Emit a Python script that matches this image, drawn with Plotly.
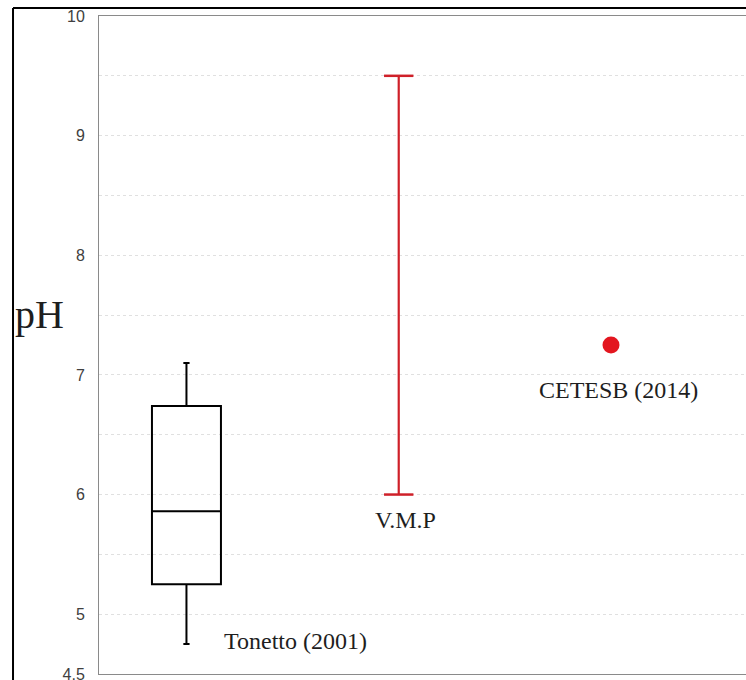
import plotly.graph_objects as go

# pH values by source
tonetto_stats = {"low": 4.75, "q1": 5.25, "median": 5.86, "q3": 6.74, "high": 7.10}
vmp_range = [6.0, 9.5]
cetesb_value = [7.25]

positions = [1, 2, 3]  # Tonetto, V.M.P, CETESB
source_labels = ["Tonetto (2001)", "V.M.P", "CETESB (2014)"]

y_tickvals = [4.5, 5, 6, 7, 8, 9, 10]
y_ticktext = ["4.5", "5", "6", "7", "8", "9", "10"]

serif = "Liberation Serif, Times New Roman, serif"
sans = "Liberation Sans, Arial, sans-serif"

fig = go.Figure()

# Tonetto (2001) box plot from precomputed statistics
fig.add_trace(go.Box(
    x=[positions[0]],
    q1=[tonetto_stats["q1"]],
    median=[tonetto_stats["median"]],
    q3=[tonetto_stats["q3"]],
    lowerfence=[tonetto_stats["low"]],
    upperfence=[tonetto_stats["high"]],
    width=0.325,
    whiskerwidth=0.09,
    line=dict(color="black", width=2),
    fillcolor="rgba(255,255,255,0)",
    boxpoints=False,
    hoverinfo="skip",
    showlegend=False,
))

# V.M.P allowed range: vertical bar with end caps
fig.add_trace(go.Scatter(
    x=[positions[1]] * len(vmp_range),
    y=vmp_range,
    mode="lines+markers",
    line=dict(color="#cf2029", width=2.2),
    marker=dict(symbol="line-ew", size=21, line=dict(color="#cf2029", width=2.5)),
    hoverinfo="skip",
    showlegend=False,
))

# CETESB (2014) single reference value
fig.add_trace(go.Scatter(
    x=[positions[2]],
    y=cetesb_value,
    mode="markers",
    marker=dict(color="#e3161f", size=17),
    hoverinfo="skip",
    showlegend=False,
))

# Source labels next to each mark
label_offsets = [(0.1675, -0.47, "left"), (0.032, -0.214, "center"), (0.033, -0.377, "center")]
label_refs = [tonetto_stats["low"] + 0.5, vmp_range[0], cetesb_value[0]]
for pos, ref, text, (dx, dy, anchor) in zip(positions, label_refs, source_labels, label_offsets):
    fig.add_annotation(
        x=pos + dx, y=ref + dy, text=text, showarrow=False,
        xanchor=anchor, yanchor="middle",
        font=dict(family=serif, size=24, color="#1e1e1e"),
    )

# Axis title "pH"
fig.add_annotation(
    x=-0.0912, y=0.547, xref="paper", yref="paper", text="pH", showarrow=False,
    xanchor="center", yanchor="middle",
    font=dict(family=serif, size=40, color="#1e1e1e"),
)

# Outer frame around the chart
frame_left, frame_top = -0.1329, 1.0122
fig.add_shape(type="line", xref="paper", yref="paper",
              x0=frame_left, x1=frame_left, y0=frame_top, y1=-0.05,
              line=dict(color="black", width=2))
fig.add_shape(type="line", xref="paper", yref="paper",
              x0=frame_left, x1=1.05, y0=frame_top, y1=frame_top,
              line=dict(color="black", width=2))

fig.update_layout(
    width=746, height=680,
    margin=dict(l=99, r=0, t=16, b=6, autoexpand=False),
    paper_bgcolor="white",
    plot_bgcolor="white",
    xaxis=dict(
        range=[0.588, 3.636],
        showgrid=False, zeroline=False,
        showticklabels=False, ticks="", automargin=False,
        showline=True, mirror=True, linecolor="#8a8a8a", linewidth=1,
    ),
    yaxis=dict(
        range=[4.5, 10],
        tickvals=y_tickvals, ticktext=y_ticktext,
        ticks="", ticklabelstandoff=10, ticklabeloverflow="allow",
        automargin=False,
        tickfont=dict(family=sans, size=16, color="#404040"),
        showgrid=True, gridcolor="#e0e0e0", griddash="dot", gridwidth=1,
        minor=dict(dtick=0.5, tick0=4.5, showgrid=True, gridcolor="#e0e0e0",
                   griddash="dot", gridwidth=1, ticks=""),
        zeroline=False,
        showline=True, mirror=False, linecolor="#8a8a8a", linewidth=1,
    ),
)

fig.write_html("out.html")
